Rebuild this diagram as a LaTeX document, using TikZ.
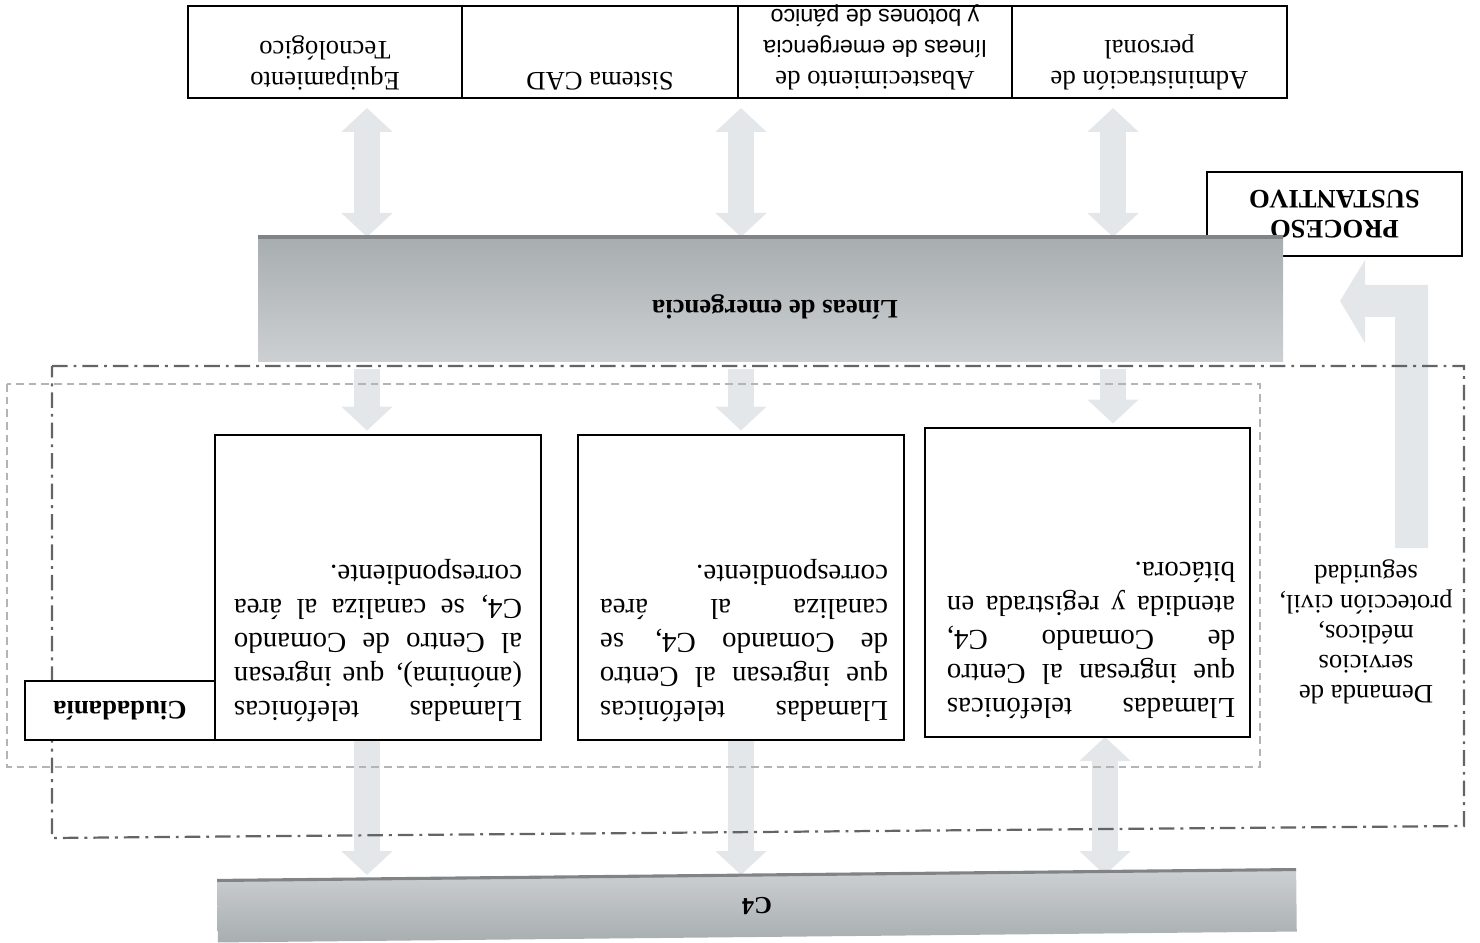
\documentclass[tikz,border=0pt]{standalone}
\usepackage{fontspec}
\setmainfont{Liberation Serif}
\setsansfont{Liberation Sans}
\usetikzlibrary{arrows.meta,calc}
\pgfdeclarelayer{back}
\pgfsetlayers{back,main}

\def\pxu{0.45pt}
\definecolor{arrowfill}{RGB}{228,231,234}
\definecolor{bardark}{RGB}{168,173,176}
\definecolor{barlight}{RGB}{204,208,210}
\definecolor{baredge}{RGB}{128,132,135}
\definecolor{outerdash}{RGB}{100,100,100}
\definecolor{innerdash}{RGB}{180,180,180}
% one justified line of a process box
\newcommand\jline[1]{\makebox[129.6pt][s]{#1}}

\begin{document}
\begin{tikzpicture}[x=0.45pt, y=-0.45pt,
  every node/.style={inner sep=0pt, outer sep=0pt},
  boxframe/.style={draw=black, line width=0.9pt, fill=white},
  celltext/.style={rotate=180, anchor=north, align=center, font=\fontsize{12}{13.95}\selectfont},
  boxtext/.style={rotate=180, anchor=north, align=left, font=\fontsize{13}{15.3}\selectfont},
  fat/.style={draw=arrowfill, line width=11.7pt, line cap=butt,
    -{Triangle[width=22.5pt,length=10.8pt]}},
  fatboth/.style={fat, {Triangle[width=22.5pt,length=10.8pt]}-{Triangle[width=22.5pt,length=10.8pt]}},
  bartitle/.style={rotate=180, font=\bfseries\fontsize{12}{14}\selectfont},
]
\useasboundingbox (0,0) rectangle (1480,943);

% columns of the vertical connectors
\coordinate (colA) at (367,0);
\coordinate (colB) at (741,0);
\coordinate (colC) at (1113,0);
\coordinate (colD) at (1105,0);

% support areas (table row)
\node[boxframe, minimum width=274*\pxu, minimum height=92*\pxu] (cell1) at (325,52) {};
\node[boxframe, minimum width=276*\pxu, minimum height=92*\pxu] (cell2) at (600,52) {};
\node[boxframe, minimum width=274*\pxu, minimum height=92*\pxu] (cell3) at (875,52) {};
\node[boxframe, minimum width=275*\pxu, minimum height=92*\pxu] (cell4) at (1149.5,52) {};
\node[celltext] (t1) at (325,90) {Equipamiento\\Tecnológico};
\node[celltext] (t2) at (600,90) {Sistema CAD};
\node[celltext] (t3) at (875,90) {Abastecimiento de\\{\sffamily\fontsize{10.5}{13.95}\selectfont líneas de emergencia}\\{\sffamily\fontsize{10.5}{13.95}\selectfont y botones de pánico}};
\node[celltext] (t4) at (1149.5,90) {Administración de\\personal};

% process label
\node[boxframe, rotate=180, minimum width=255*\pxu, minimum height=84*\pxu, align=center,
  font=\bfseries\fontsize{12}{13.5}\selectfont] (proc) at (1334.5,214) {PROCESO\\SUSTANTIVO};

% emergency lines bar
\node[minimum width=1025*\pxu, minimum height=125*\pxu, top color=bardark, bottom color=barlight] (lineas) at (770.5,299.5) {};
\draw[baredge, line width=1.4pt] (lineas.north west) -- (lineas.north east);
\node[bartitle] (lineastxt) at (775,307) {Líneas de emergencia};

% call boxes
\node[boxframe, minimum width=326*\pxu, minimum height=305*\pxu] (box1) at (378,587.5) {};
\node[boxframe, minimum width=326*\pxu, minimum height=305*\pxu] (box2) at (741,587.5) {};
\node[boxframe, minimum width=325*\pxu, minimum height=309*\pxu] (box3) at (1087.5,582.5) {};
\node[boxtext] (bt1) at (378,722) {\jline{Llamadas telefónicas}\\\jline{(anónima), que ingresan}\\\jline{al Centro de Comando}\\\jline{C4, se canaliza al área}\\correspondiente.};
\node[boxtext] (bt2) at (744,722) {\jline{Llamadas telefónicas}\\\jline{que ingresan al Centro}\\\jline{de Comando C4, se}\\\jline{canaliza al área}\\correspondiente.};
\node[boxtext] (bt3) at (1091,719) {\jline{Llamadas telefónicas}\\\jline{que ingresan al Centro}\\\jline{de Comando C4,}\\\jline{atendida y registrada en}\\bitácora.};

\node[boxframe, rotate=180, minimum width=190*\pxu, minimum height=59*\pxu,
  font=\bfseries\fontsize{12}{14}\selectfont] (ciud) at (120,710.5) {Ciudadanía};

\node[rotate=180, anchor=north, align=center, font=\fontsize{12}{13.5}\selectfont] (dem) at (1366,704)
  {Demanda de\\servicios\\médicos,\\protección civil,\\seguridad};

% C4 bar
\node[rotate=180.58, minimum width=1079*\pxu, minimum height=62*\pxu, top color=barlight, bottom color=bardark,
  font=\bfseries\fontsize{11}{13}\selectfont] (c4) at (757,906) {C4};
\draw[baredge, line width=1.4pt] (c4.south west) -- (c4.south east);

\begin{pgfonlayer}{back}
  % connectors
  \draw[fatboth, shorten <=4.5pt] (cell1.south -| colA) -- (lineas.north -| colA);
  \draw[fatboth, shorten <=4.5pt] (cell3.south -| colB) -- (lineas.north -| colB);
  \draw[fatboth, shorten <=4.5pt] (cell4.south -| colC) -- (lineas.north -| colC);
  \draw[fat, shorten <=3pt, shorten >=2pt] (lineas.south -| colA) -- (box1.north -| colA);
  \draw[fat, shorten <=3pt, shorten >=2pt] (lineas.south -| colB) -- (box2.north -| colB);
  \draw[fat, shorten <=3pt, shorten >=2pt] (lineas.south -| colC) -- (box3.north -| colC);
  \draw[fat] (box1.south -| colA) -- (c4.south -| colA);
  \draw[fat] (box2.south -| colB) -- (c4.south -| colB);
  \draw[fatboth] (box3.south -| colD) -- (c4.south -| colD);
  % bent arrow from the demand towards the emergency lines
  \fill[arrowfill] (1395,548) -- (1428,548) -- (1428,285) -- (1365,285) -- (1365,260)
    -- (1340,301) -- (1365,343) -- (1365,317) -- (1395,317) -- cycle;
  % dashed boundaries
  \draw[innerdash, line width=0.6pt, dash pattern=on 3.5pt off 2.2pt] (7,384) rectangle (1260,767);
  \draw[outerdash, line width=1pt, dash pattern=on 7pt off 2.7pt on 1.3pt off 2.7pt]
    (52,366) -- (1464,366) -- (1464,826) -- (52,838) -- cycle;
\end{pgfonlayer}
\end{tikzpicture}
\end{document}
